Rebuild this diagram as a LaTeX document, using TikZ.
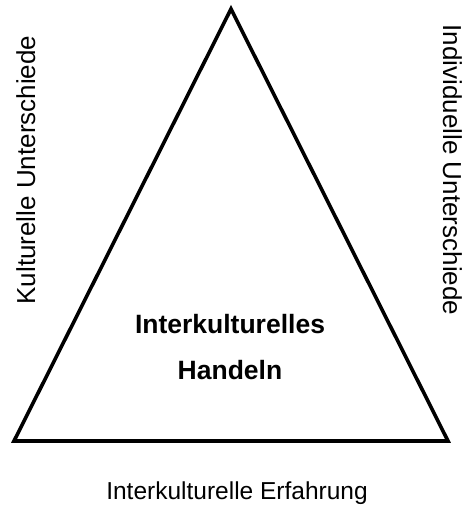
\documentclass[tikz,border=0pt]{standalone}
\usepackage{fontspec}
\setmainfont{Liberation Sans}
\begin{document}
\begin{tikzpicture}[x=1pt, y=-1pt]
                % 1. Styles
                \tikzstyle{Label} = [inner sep=0pt, font=\fontsize{24.5}{28}\selectfont]
                \tikzstyle{Side} = [Label, font=\fontsize{26}{30}\selectfont]
                \tikzstyle{Centre} = [inner sep=0pt, font=\fontsize{26.5}{30}\selectfont\bfseries]
                \useasboundingbox (0,0) rectangle (471,508);

                % 2. Triangle corners
                \coordinate (Top)   at (231,9);
                \coordinate (Left)  at (14,441);
                \coordinate (Right) at (448,441);

                % 3. The triangle
                \draw[line width=3.6pt, line join=miter] (Top) -- (Left) -- (Right) -- cycle;

                % 4. Side labels
                \node[Side, rotate=90, anchor=base]  (kultur) at (35,170) {Kulturelle Unterschiede};
                \node[Side, rotate=-90, anchor=base] (indiv)  at (443,170) {Individuelle Unterschiede};
                \node[Label, anchor=base]            (erfahr) at (237,499) {Interkulturelle Erfahrung};

                % 5. Centre text
                \node[Centre, anchor=base] (inter)   at (230,333) {Interkulturelles};
                \node[Centre, anchor=base] (handeln) at (230,379) {Handeln};

            \end{tikzpicture}
\end{document}
